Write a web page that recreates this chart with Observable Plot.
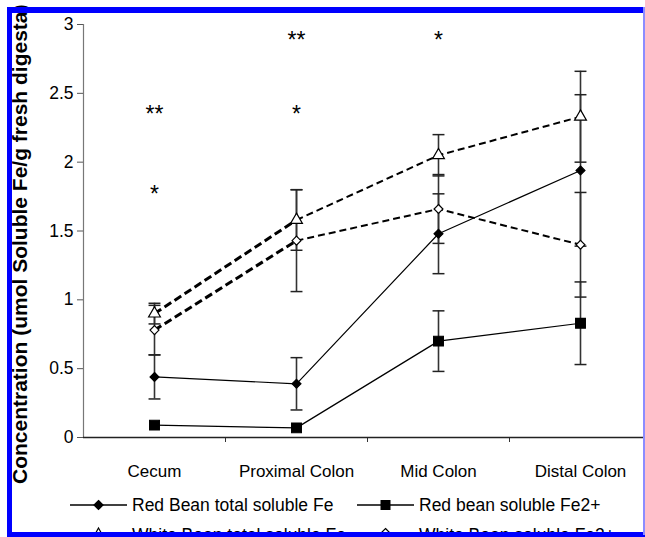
<!DOCTYPE html>
<html><head><meta charset="utf-8">
<script src="https://cdn.jsdelivr.net/npm/d3@7"></script>
<script src="https://cdn.jsdelivr.net/npm/@observablehq/plot@0.6"></script>
<style>
body{margin:0;background:#fff;}
#wrap{position:relative;width:645px;height:537px;overflow:hidden;font-family:"Liberation Sans",Arial,sans-serif;background:#fff;}
#wrap > svg.plot{position:absolute;left:0;top:0;}
.frame{position:absolute;background:#0000ff;z-index:5;}
.leg{position:absolute;display:flex;align-items:center;font-size:17.5px;color:#000;white-space:nowrap;}
.leg svg{display:block;margin-right:5px;}
#ytitle{position:absolute;left:0;top:0;z-index:3;}
</style></head>
<body><div id="wrap"></div>
<script>
// ---- data ----
const categories = ["Cecum", "Proximal Colon", "Mid Colon", "Distal Colon"];
const redTotal      = [0.44, 0.39, 1.48, 1.94];
const redTotalErr   = [0.16, 0.19, 0.29, 0.55];
const redFe2        = [0.09, 0.07, 0.70, 0.83];
const redFe2Err     = [0.00, 0.00, 0.22, 0.30];
const whiteTotal    = [0.90, 1.58, 2.05, 2.33];
const whiteTotalErr = [0.075, 0.22, 0.15, 0.33];
const whiteFe2      = [0.78, 1.43, 1.66, 1.40];
const whiteFe2Err   = [0.18, 0.37, 0.25, 0.38];
const yTicks = [0, 0.5, 1, 1.5, 2, 2.5, 3];
const starLabels = ["**", "*", "**", "*", "*"];
const starCategory = ["Cecum", "Cecum", "Proximal Colon", "Proximal Colon", "Mid Colon"];
const starValue = [2.39, 1.81, 2.93, 2.39, 2.93];
const seriesNames = ["Red Bean total soluble Fe", "Red bean soluble Fe2+", "White Bean total soluble Fe", "White Bean soluble Fe2+"];
const yTitle = "Concentration (umol Soluble Fe/g fresh digesta)";

// ---- build table ----
const series = [
  {name: seriesNames[0], v: redTotal, e: redTotalErr, symbol: "diamond2", fill: "#000", r: 4, dash: null},
  {name: seriesNames[1], v: redFe2, e: redFe2Err, symbol: "square", fill: "#000", r: 5.5, dash: null},
  {name: seriesNames[2], v: whiteTotal, e: whiteTotalErr, symbol: "triangle", fill: "#fff", r: 4.4, dash: "7,4"},
  {name: seriesNames[3], v: whiteFe2, e: whiteFe2Err, symbol: "diamond2", fill: "#fff", r: 4, dash: "7,4"}
];
const pos = c => categories.indexOf(c) + 0.5;
const rows = [];
series.forEach(s => categories.forEach((c, i) => rows.push({
  series: s.name, cat: c, x: i + 0.5, v: s.v[i], lo: s.v[i] - s.e[i], hi: s.v[i] + s.e[i], err: s.e[i]
})));
const errRows = rows.filter(d => d.err > 0);
const stars = starLabels.map((t, i) => ({t, x: pos(starCategory[i]), y: starValue[i]}));
const capHalf = 0.042;

const marks = [
  Plot.axisY({ticks: yTicks, tickSize: 6, tickPadding: 4, fontSize: 17.5, tickFormat: d => String(d), label: null, stroke: "#555"}),
  Plot.axisX({ticks: [1, 2, 3], tickSize: 5, tickFormat: () => "", label: null, stroke: "#333"}),
  Plot.axisX({ticks: categories.map((c, i) => i + 0.5), tickSize: 0, tickPadding: 27, fontSize: 17, tickFormat: d => categories[Math.round(d - 0.5)], label: null}),
  Plot.ruleX([0], {stroke: "#777", strokeWidth: 1.2}),
  Plot.ruleY([0], {stroke: "#222", strokeWidth: 1.3}),
  // error bars
  Plot.ruleX(errRows, {x: "x", y1: "lo", y2: "hi", stroke: "#333", strokeWidth: 1.6}),
  Plot.link(errRows, {x1: d => d.x - capHalf, x2: d => d.x + capHalf, y1: "hi", y2: "hi", stroke: "#222", strokeWidth: 1.5}),
  Plot.link(errRows, {x1: d => d.x - capHalf, x2: d => d.x + capHalf, y1: "lo", y2: "lo", stroke: "#222", strokeWidth: 1.5})
];
series.forEach(s => {
  const data = rows.filter(d => d.series === s.name);
  if (s.dash) {
    marks.push(Plot.line(data.slice(1), {x: "x", y: "v", stroke: "#000", strokeWidth: 2, strokeDasharray: s.dash, strokeLinecap: "butt"}));
    marks.push(Plot.line(data.slice(0, 2), {x: "x", y: "v", stroke: "#000", strokeWidth: 3, strokeDasharray: "8,4", strokeLinecap: "butt"}));
  } else {
    marks.push(Plot.line(data, {x: "x", y: "v", stroke: "#000", strokeWidth: 1.2}));
  }
});
series.forEach(s => {
  const data = rows.filter(d => d.series === s.name);
  marks.push(Plot.dot(data, {x: "x", y: "v", symbol: () => s.symbol, r: s.r, fill: s.fill, stroke: "#000", strokeWidth: 1.2}));
});
marks.push(Plot.text(stars, {x: "x", y: "y", text: "t", fontSize: 23, dy: 6, fill: "#000"}));

const chart = Plot.plot({
  width: 645, height: 537,
  marginLeft: 83, marginRight: 0, marginTop: 24, marginBottom: 100,
  x: {type: "linear", domain: [0, 4], range: [83, 651]},
  y: {domain: [0, 3]},
  symbol: {type: "identity"},
  style: {fontFamily: "Liberation Sans, Arial, sans-serif", color: "#000", background: "transparent", overflow: "hidden"},
  marks
});
const wrap = document.getElementById("wrap");
wrap.appendChild(chart);

// y title
const ns = "http://www.w3.org/2000/svg";
const tsvg = document.createElementNS(ns, "svg");
tsvg.setAttribute("id", "ytitle");
tsvg.setAttribute("width", 645); tsvg.setAttribute("height", 537);
const tt = document.createElementNS(ns, "text");
tt.setAttribute("transform", "translate(27,484) rotate(-90)");
tt.setAttribute("font-size", "21");
tt.setAttribute("font-weight", "bold");
tt.setAttribute("font-family", "Liberation Sans, Arial, sans-serif");
tt.textContent = yTitle;
tsvg.appendChild(tt);
wrap.appendChild(tsvg);

// legend
function swatch(s) {
  const w = 57, h = 14;
  let m = "";
  if (s.symbol === "square") m = `<rect x="${w/2-5}" y="${h/2-5}" width="10" height="10" fill="#000"/>`;
  else if (s.symbol === "triangle") m = `<path d="M${w/2},${h/2-5}L${w/2+5},${h/2+4}L${w/2-5},${h/2+4}Z" fill="#fff" stroke="#000" stroke-width="1.2"/>`;
  else m = `<path d="M${w/2},${h/2-4.5}L${w/2+4.5},${h/2}L${w/2},${h/2+4.5}L${w/2-4.5},${h/2}Z" fill="${s.fill}" stroke="#000" stroke-width="1.2"/>`;
  const dash = s.dash ? `stroke-dasharray="7,4" stroke-width="2"` : `stroke-width="1.3"`;
  return `<svg width="${w}" height="${h}"><line x1="0" x2="${w}" y1="${h/2}" y2="${h/2}" stroke="#000" ${dash}/>${m}</svg>`;
}
const legPos = [[70, 505], [357, 505], [70, 533], [357, 533]];
series.forEach((s, i) => {
  const d = document.createElement("div");
  d.className = "leg";
  d.style.left = legPos[i][0] + "px";
  d.style.top = (legPos[i][1] - 11) + "px";
  d.style.height = "22px";
  d.innerHTML = swatch(s) + `<span style="position:relative;top:${i >= 2 ? 2 : 0}px">${s.name}</span>`;
  wrap.appendChild(d);
});

// blue frame
[[7, 7, 638, 6, "#0000ff"], [7, 7, 5, 530, "#0000ff"], [7, 532, 638, 5, "#0000ff"], [643, 7, 2, 528, "#8c8cff"]].forEach(([l, t, w, h, c]) => {
  const f = document.createElement("div");
  f.className = "frame";
  Object.assign(f.style, {left: l + "px", top: t + "px", width: w + "px", height: h + "px", background: c});
  wrap.appendChild(f);
});
</script>
</body></html>
